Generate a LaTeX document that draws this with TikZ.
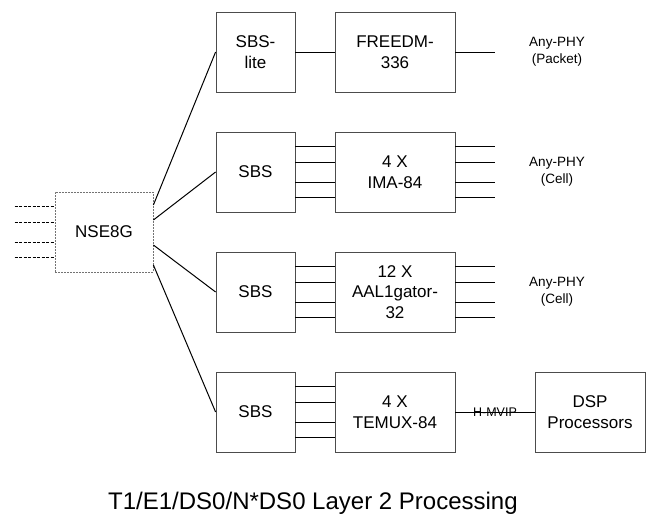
\documentclass[tikz,border=0pt]{standalone}
\usepackage{fontspec}
\setmainfont{Liberation Sans}
\usetikzlibrary{positioning,calc}

\begin{document}
\begin{tikzpicture}[x=1pt,y=-1pt,
    blk/.style={draw=black!70, line width=0.8pt, minimum height=80pt, inner sep=0pt,
        align=center, font=\fontsize{17}{20.5}\selectfont},
    sbsbox/.style={blk, minimum width=79pt},
    chipbox/.style={blk, minimum width=120pt},
    wire/.style={line width=1pt},
    phy/.style={align=center, font=\fontsize{13.5}{17}\selectfont}]
    \useasboundingbox (0,0) rectangle (646,525);

    % NSE8G
    \node[blk, minimum width=98pt, draw=black!55, dash pattern=on 2pt off 1pt] (nse) at (104,232) {NSE8G};
    \foreach \dy [count=\i] in {-26,-10,10,25} {
        \coordinate (in\i) at ($(nse.west)+(-40,\dy)$);
        \draw[wire, dash pattern=on 3pt off 1.5pt] (in\i) -- ($(nse.west)+(0,\dy)$);
    }

    % Packet path
    \node[sbsbox] (sbslite) at (255.5,52) {SBS-\\lite};
    \node[chipbox] (freedm) at (395,52) {FREEDM-\\336};
    \coordinate[right=40pt of freedm] (freedmout);
    \node[phy] (phy1) at (557,52) {Any-PHY\\(Packet)};

    % Cell paths
    \node[sbsbox] (sbs2) at (255.5,172) {SBS};
    \node[chipbox] (ima) at (395,172) {4 X\\IMA-84};
    \coordinate[right=40pt of ima] (imaout);
    \node[phy] (phy2) at (557,172) {Any-PHY\\(Cell)};

    \node[sbsbox] (sbs3) at (255.5,292) {SBS};
    \node[chipbox] (aal) at (395,292) {12 X\\AAL1gator-\\32};
    \coordinate[right=40pt of aal] (aalout);
    \node[phy] (phy3) at (557,292) {Any-PHY\\(Cell)};

    % Voice path
    \node[sbsbox] (sbs4) at (255.5,412) {SBS};
    \node[chipbox] (temux) at (395,412) {4 X\\TEMUX-84};
    \node[blk, minimum width=110pt] (dsp) at (590,412) {DSP\\Processors};

    % NSE8G to SBS
    \foreach \sbs/\dy in {sbslite/-27, sbs2/-12, sbs3/13, sbs4/33}
        \draw[wire] ($(nse.east)+(0,\dy)$) -- (\sbs.west);

    \draw[wire] (sbslite) -- (freedm);
    \draw[wire] (freedm) -- (freedmout);

    % 4-wire buses
    \foreach \a/\b in {sbs2/ima, sbs3/aal, sbs4/temux}
        \foreach \dy in {-26,-10,10,25}
            \draw[wire] ($(\a.east)+(0,\dy)$) -- ($(\b.west)+(0,\dy)$);
    \foreach \a in {ima, aal}
        \foreach \dy in {-26,-10,10,25}
            \draw[wire] ($(\a.east)+(0,\dy)$) -- ($(\a out)+(0,\dy)$);

    \draw[wire] (temux) -- node[inner sep=0pt, font=\fontsize{12.5}{14}\selectfont] (hmvip) {H-MVIP} (dsp);

    % caption
    \node[anchor=west, inner sep=0pt, font=\fontsize{24}{28}\selectfont] (caption) at (108,503) {T1/E1/DS0/N*DS0 Layer 2 Processing};
\end{tikzpicture}
\end{document}
